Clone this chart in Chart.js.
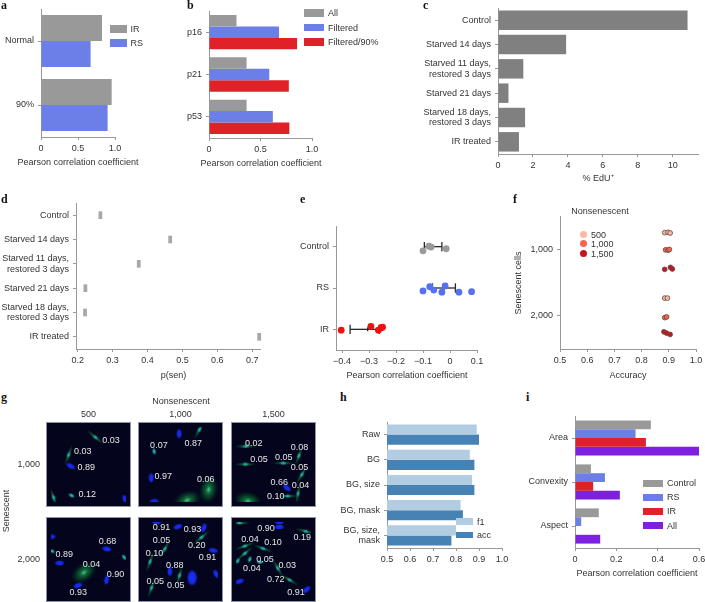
<!DOCTYPE html>
<html>
<head>
<meta charset="utf-8">
<title>Senescence figure</title>
<script src="https://cdn.jsdelivr.net/npm/chart.js@4/dist/chart.umd.min.js"></script>
<style>
  html, body { margin: 0; padding: 0; background: #fff; }
  #page { position: relative; width: 705px; height: 602px; overflow: hidden; font: 9px 'Liberation Sans', Arial, sans-serif; color: #333; }
  #page canvas { position: absolute; }
  .txt { position: absolute; white-space: nowrap; line-height: 11px; }
  .tag { position: absolute; font: bold 12px 'Liberation Serif', serif; color: #111; line-height: 12px; }
  .sw { position: absolute; }
</style>
</head>
<body>
<div id="page"></div>
<script>
const GREY = '#999999'
const BLUE = '#6c7ee8'
const RED = '#e02127'
const PURPLE = '#7e20e0'

// a
const aCats = ['Normal', '90%']
const aIR = [0.825, 0.955]
const aRS = [0.67, 0.9]

// b
const bCats = ['p16', 'p21', 'p53']
const bAll = [0.267, 0.365, 0.365]
const bFiltered = [0.68, 0.585, 0.62]
const bFiltered90 = [0.855, 0.775, 0.78]

// c
const treatments = ['Control', 'Starved 14 days', ['Starved 11 days,', 'restored 3 days'], 'Starved 21 days', ['Starved 18 days,', 'restored 3 days'], 'IR treated']
const edu = [10.85, 3.9, 1.45, 0.6, 1.55, 1.2]

// d
const psen = [0.265, 0.465, 0.375, 0.222, 0.221, 0.72]

// e
const eCats = ['Control', 'RS', 'IR']
const eControl = [[-0.1, 0.1], [-0.078, -0.01], [-0.07, 0.01], [-0.014, 0.05]]
const eRS = [[-0.1, 0.07], [-0.075, -0.03], [-0.06, 0.05], [-0.018, -0.05], [-0.03, 0.1], [0.033, 0.1], [0.08, 0.09]]
const eIR = [[-0.403, 0.02], [-0.293, -0.07], [-0.265, 0.02], [-0.25, -0.05], [-0.255, -0.04]]
const eLow = [-0.095, -0.065, -0.37]
const eMean = [-0.062, -0.022, -0.305]
const eHigh = [-0.03, 0.02, -0.262]

// f
const f500 = [[0.885, 0.74], [0.897, 0.735], [0.905, 0.745], [0.885, 1.73], [0.895, 1.73]]
const f1000 = [[0.888, 1], [0.897, 1.005], [0.902, 0.995], [0.885, 2.025], [0.892, 2.015]]
const f1500 = [[0.885, 1.295], [0.906, 1.265], [0.913, 1.29], [0.882, 2.24], [0.892, 2.26], [0.905, 2.28]]
const fLevels = ['500', '1,000', '1,500']
const fRows = ['1,000', '2,000']

// g, one entry per image
const gLabelText = [
  ['0.03', '0.03', '0.89', '0.12'],
  ['0.07', '0.87', '0.97', '0.06'],
  ['0.02', '0.08', '0.05', '0.05', '0.05', '0.66', '0.04', '0.10'],
  ['0.68', '0.89', '0.04', '0.90', '0.93'],
  ['0.91', '0.93', '0.05', '0.20', '0.10', '0.91', '0.88', '0.05', '0.05'],
  ['0.90', '0.19', '0.04', '0.10', '0.05', '0.03', '0.04', '0.72', '0.91']
]
const gLabelPos = [
  [[68, 15], [36, 28], [40, 46], [41, 77]],
  [[18, 21], [57, 19], [23, 56], [71, 60]],
  [[20, 19], [72, 23], [26, 37], [54, 35], [72, 46], [49, 63], [73, 66], [45, 79]],
  [[64, 22], [15, 37], [46, 48], [73, 59], [31, 80]],
  [[21, 6], [56, 9], [21, 21], [61, 27], [13, 36], [73, 40], [36, 49], [14, 67], [37, 72]],
  [[34, 7], [75, 18], [16, 20], [42, 23], [33, 43], [58, 49], [18, 53], [45, 65], [68, 80]]
]
// x, y, angle
const gNuclei = [
  [[22.3, 44.3, 30], [84, 82, 70]],
  [[41, 7.6, 90], [9.4, 57.6, 90], [12.7, 84.3, 0]],
  [[57.6, 69, 40]],
  [[9.7, 46.6, 0], [63.3, 30.6, 10], [63, 65.6, -80], [30.7, 72, -20], [0, 16.6, 0]],
  [[39.7, 5.3, -20], [69, 6.6, -70], [79.7, 32.3, 10], [30.4, 56, 90], [83, 59, 60], [15.7, 0, 0]],
  [[49, 5.6, 0], [4, 67.3, -20], [80, 76.6, -40], [49, 0, 0]]
]
// x, y, angle, size class
const gCells = [
  [[20, 31.6, -70, 1], [50.3, 11.6, 40, 1], [23.3, 77.6, 30, 0], [3, 80, 70, 1]],
  [[12.7, 27.6, 80, 0], [64, 3, -60, 1], [50, 83, -20, 2], [74.4, 71, -80, 2]],
  [[11, 22, 0, 1], [10.6, 42.3, 0, 1], [53.6, 41, 0, 1], [71.3, 32.6, -70, 1], [74.6, 54, -60, 1], [70.3, 75.6, -80, 1], [58.6, 78.3, 0, 1], [13.6, 84, 10, 2]],
  [[37.3, 57.3, -35, 2], [83, 40, 50, 0], [1, 33, 20, 0]],
  [[66.4, 17.3, -40, 1], [24.7, 30.6, -60, 1], [8, 45, -70, 1], [41.4, 60.6, -75, 1], [9.7, 74.6, -70, 1]],
  [[79, 10.6, 15, 1], [10, 27.3, -20, 1], [30.6, 30, 20, 1], [10, 35.6, -40, 1], [15.6, 42.3, -70, 0], [27.3, 45.6, 0, 0], [47.3, 52.3, 60, 1], [60.6, 65.6, 30, 1], [2, 44, -60, 0], [4, 1, 0, 1]]
]
const gBigNuclei = [[], [], [], [], [[55.7, 63.3, 90]], []]
const gCols = ['500', '1,000', '1,500']
const gRows = ['1,000', '2,000']

// h
const hCats = ['Raw', 'BG', 'BG, size', 'BG, mask', ['BG, size,', 'mask']]
const hF1 = [0.89, 0.86, 0.87, 0.82, 0.8]
const hAcc = [0.9, 0.88, 0.88, 0.83, 0.78]

// i
const iCats = ['Area', 'Convexity', 'Aspect']
const iControl = [0.367, 0.077, 0.115]
const iRS = [0.293, 0.145, 0.03]
const iIR = [0.343, 0.088, null]
const iAll = [0.6, 0.217, 0.122]

const page = document.getElementById('page')
const FONT = { family: "'Liberation Sans', Arial, sans-serif", size: 9, lineHeight: 1.18 }
const INK = '#333333'
const AXIS = '#999999'

function text(str, x, y, align, rotate) {
  const el = document.createElement('div')
  el.className = 'txt'
  el.textContent = str
  el.style.left = x + 'px'
  el.style.top = y + 'px'
  const tx = align === 'center' ? '-50%' : align === 'right' ? '-100%' : '0'
  el.style.transform = `translate(${tx}, -50%)` + (rotate ? ` rotate(${rotate}deg)` : '')
  page.appendChild(el)
}

function tag(str, x, y) {
  const el = document.createElement('div')
  el.className = 'tag'
  el.textContent = str
  el.style.left = x + 'px'
  el.style.top = (y - 6) + 'px'
  page.appendChild(el)
}

function swatch(color, x, y, w, h, round) {
  const el = document.createElement('div')
  el.className = 'sw'
  el.style.cssText = `left:${x}px;top:${y}px;width:${w}px;height:${h}px;background:${color};` + (round ? 'border-radius:50%;' : '')
  page.appendChild(el)
}

function addCanvas(left, top, width, height) {
  const canvas = document.createElement('canvas')
  canvas.width = width
  canvas.height = height
  canvas.style.left = left + 'px'
  canvas.style.top = top + 'px'
  canvas.style.width = width + 'px'
  canvas.style.height = height + 'px'
  page.appendChild(canvas)
  return canvas
}

function fixWidth(w) {
  return s => { s.width = w; s.paddingTop = 0; s.paddingBottom = 0 }
}

function fixHeight(h) {
  return s => { s.height = h; s.paddingLeft = 0; s.paddingRight = 0 }
}

function xAxis(min, max, step, format) {
  return {
    type: 'linear',
    min: min,
    max: max,
    border: { color: AXIS, width: 1 },
    grid: { drawOnChartArea: false, drawTicks: true, tickLength: 3, tickColor: AXIS, offset: false },
    ticks: {
      stepSize: step,
      includeBounds: false,
      maxRotation: 0,
      autoSkip: false,
      padding: 3,
      color: INK,
      font: FONT,
      callback: format
    }
  }
}

function yAxis(leftMargin) {
  return {
    afterFit: fixWidth(leftMargin),
    border: { color: AXIS, width: 1 },
    grid: { drawOnChartArea: false, drawTicks: true, tickLength: 3, tickColor: AXIS, offset: false },
    ticks: { autoSkip: false, padding: 4, color: INK, font: FONT }
  }
}

function panel(plot, leftMargin, config, yExtra) {
  const [l, t, r, b] = plot
  const bottomMargin = 20
  const left = l - leftMargin
  const top = t - 4
  const canvas = addCanvas(left, top, r - left + 14, b - top + bottomMargin)
  config.options.responsive = false
  config.options.animation = false
  config.options.devicePixelRatio = 1
  config.options.layout = { padding: { top: 4, right: 14, left: 0, bottom: 0 } }
  config.options.plugins = { legend: { display: false }, tooltip: { enabled: false } }
  const x = config.options.scales.x
  x.afterFit = fixHeight(bottomMargin)
  const y = Object.assign(yAxis(leftMargin), yExtra || {})
  if (yExtra && yExtra.ticks) y.ticks = Object.assign(yAxis(leftMargin).ticks, yExtra.ticks)
  config.options.scales.y = y
  return new Chart(canvas, config)
}

function barPanel(plot, leftMargin, cats, series, axis, groupWidth) {
  return panel(plot, leftMargin, {
    type: 'bar',
    data: {
      labels: cats,
      datasets: series.map(s => ({
        data: s[0],
        backgroundColor: s[1],
        categoryPercentage: groupWidth,
        barPercentage: 1
      }))
    },
    options: { indexAxis: 'y', scales: { x: axis } }
  })
}

const half = v => v === 0 ? '0' : v.toFixed(1)

barPanel([41, 9, 115, 137], 41, aCats, [[aIR, GREY], [aRS, BLUE]], xAxis(0, 1, 0.5, half), 0.81)
barPanel([209, 11, 312, 138], 40, bCats, [[bAll, GREY], [bFiltered, BLUE], [bFiltered90, RED]], xAxis(0, 1, 0.5, half), 0.81)
barPanel([498, 8, 698, 154], 80, treatments, [[edu, '#808080']], xAxis(0, 200 / 17.47, 2, v => String(v)), 0.8)

// d: short floating bars
panel([76, 203, 260, 349], 76, {
  type: 'bar',
  data: {
    labels: treatments,
    datasets: [{
      data: psen.map(v => [v - 0.0045, v + 0.0045]),
      backgroundColor: '#a8a8a8',
      barThickness: 7,
      clip: false
    }]
  },
  options: { indexAxis: 'y', scales: { x: xAxis(0.2 - 1.7 / 349, 0.2 + 182.3 / 349, 0.1, v => v.toFixed(1)) } }
})

// e
const jitter = (pts, row) => pts.map(p => ({ x: p[0], y: row + p[1] }))
const eSpread = (pts, color) => ({ type: 'scatter', data: pts, backgroundColor: color, borderWidth: 0, pointRadius: 3.4, clip: false })
const eWhisker = i => ({
  type: 'line',
  data: [{ x: eLow[i], y: i }, { x: eMean[i], y: i }, { x: eHigh[i], y: i }],
  borderColor: '#2a2a2a',
  borderWidth: 1.3,
  pointStyle: 'line',
  pointRotation: 90,
  pointRadius: [4.7, 2, 4.7],
  pointBorderColor: '#2a2a2a',
  pointBorderWidth: 1.3,
  clip: false
})
panel([336, 224, 477, 350], 50, {
  type: 'scatter',
  data: {
    datasets: [
      eSpread(jitter(eControl, 0), '#9a9a9a'),
      eSpread(jitter(eRS, 1), '#5570f0'),
      eSpread(jitter(eIR, 2), '#f01010'),
      eWhisker(0), eWhisker(1), eWhisker(2)
    ]
  },
  options: { scales: { x: xAxis(0.1 - 141 / 270, 0.1, 0.1, v => Math.abs(v) < 1e-9 ? '0' : v.toFixed(1).replace('-', '\u2212')) } }
}, {
  type: 'linear',
  reverse: true,
  min: -0.5,
  max: 2.5,
  afterBuildTicks: s => { s.ticks = eCats.map((c, i) => ({ value: i })) },
  ticks: { callback: v => eCats[v] }
})

// f
const fDots = (pts, color) => ({
  data: pts.map(p => ({ x: p[0], y: p[1] })),
  backgroundColor: color,
  borderColor: '#5a4a4a',
  borderWidth: 0.8,
  pointRadius: 2.4,
  clip: false
})
panel([560, 216, 696, 349], 47, {
  type: 'scatter',
  data: { datasets: [fDots(f500, '#f9b9a2'), fDots(f1000, '#f4654b'), fDots(f1500, '#c5161d')] },
  options: { scales: { x: xAxis(0.5, 1, 0.1, v => v.toFixed(1)) } }
}, {
  type: 'linear',
  reverse: true,
  min: 0.5,
  max: 2.5,
  afterBuildTicks: s => { s.ticks = fRows.map((c, i) => ({ value: i + 1 })) },
  title: { display: true, text: 'Senescent cells', color: INK, font: FONT, padding: 0 },
  ticks: { callback: v => fRows[v - 1] }
})

barPanel([387, 422, 502, 548], 70, hCats, [[hF1, '#b2cde1'], [hAcc, '#4682b4']], xAxis(0.5, 1, 0.1, v => v.toFixed(1)), 0.8)
barPanel([575, 416, 699, 548], 60, iCats, [[iControl, GREY], [iRS, BLUE], [iIR, RED], [iAll, PURPLE]], xAxis(0, 0.6, 0.2, half), 0.8)

// g: fluorescence images as scatter charts on a 0-85 pixel box
function blob(w, h, stops) {
  const c = document.createElement('canvas')
  c.width = w
  c.height = h
  const ctx = c.getContext('2d')
  ctx.translate(w / 2, h / 2)
  ctx.scale(w / 2, h / 2)
  const g = ctx.createRadialGradient(0, 0, 0, 0, 0, 1)
  stops.forEach(s => g.addColorStop(s[0], s[1]))
  ctx.fillStyle = g
  ctx.beginPath()
  ctx.arc(0, 0, 1, 0, Math.PI * 2)
  ctx.fill()
  return c
}

const blueNucleus = blob(11, 6, [[0, '#1a30f0'], [0.65, '#1226d8'], [1, 'rgba(10,20,160,0)']])
const bigNucleus = blob(17, 11, [[0, '#1a34f5'], [0.7, '#1228dc'], [1, 'rgba(10,20,160,0)']])
const cyanNucleus = blob(7, 4, [[0, '#6fe8ff'], [0.5, '#149ce0'], [1, 'rgba(10,90,200,0)']])
const glows = [
  blob(9, 4, [[0, 'rgba(40,190,90,0.85)'], [1, 'rgba(10,90,50,0)']]),
  blob(24, 4, [[0, 'rgba(40,190,90,0.8)'], [0.5, 'rgba(15,120,60,0.5)'], [1, 'rgba(5,60,30,0)']]),
  blob(30, 20, [[0, 'rgba(50,190,90,0.8)'], [0.5, 'rgba(15,120,55,0.5)'], [1, 'rgba(5,50,30,0)']])
]

const labelPlugin = {
  id: 'cellLabels',
  afterDatasetsDraw(chart) {
    const ctx = chart.ctx
    const idx = chart.options.imageIndex
    ctx.save()
    ctx.font = "9px 'Liberation Sans', Arial, sans-serif"
    ctx.fillStyle = '#e6e6e6'
    ctx.textAlign = 'center'
    ctx.textBaseline = 'middle'
    gLabelPos[idx].forEach((p, i) => {
      ctx.fillText(gLabelText[idx][i], chart.scales.x.getPixelForValue(p[0]), chart.scales.y.getPixelForValue(p[1]))
    })
    ctx.restore()
  }
}

function image(idx, left, top) {
  const canvas = addCanvas(left, top, 85, 85)
  canvas.style.background = '#04041c'
  canvas.style.outline = '1px solid #8c93a6'
  canvas.style.outlineOffset = '-1px'
  const pts = list => list.map(p => ({ x: p[0], y: p[1] }))
  const dim = () => ({ type: 'linear', display: false, min: 0, max: 85 })
  const yScale = dim()
  yScale.reverse = true
  new Chart(canvas, {
    type: 'scatter',
    data: {
      datasets: [
        { data: pts(gCells[idx]), pointStyle: gCells[idx].map(p => glows[p[3]]), pointRotation: gCells[idx].map(p => p[2]), pointRadius: 3 },
        { data: pts(gNuclei[idx]), pointStyle: blueNucleus, pointRotation: gNuclei[idx].map(p => p[2]), pointRadius: 3 },
        { data: pts(gBigNuclei[idx]), pointStyle: bigNucleus, pointRotation: gBigNuclei[idx].map(p => p[2]), pointRadius: 3 },
        { data: pts(gCells[idx]), pointStyle: cyanNucleus, pointRotation: gCells[idx].map(p => p[2]), pointRadius: 3 }
      ]
    },
    options: {
      imageIndex: idx,
      responsive: false,
      animation: false,
      devicePixelRatio: 1,
      layout: { padding: 0 },
      plugins: { legend: { display: false }, tooltip: { enabled: false } },
      scales: { x: dim(), y: yScale }
    },
    plugins: [labelPlugin]
  })
}

const gLeft = [46, 138, 231]
const gTop = [422, 517]
gTop.forEach((top, r) => gLeft.forEach((left, c) => image(r * 3 + c, left, top)))

// panel tags
tag('a', 1, 5)
tag('b', 187, 5)
tag('c', 423, 5)
tag('d', 1, 199)
tag('e', 300, 199)
tag('f', 513, 199)
tag('g', 1, 397)
tag('h', 340, 397)
tag('i', 526, 397)

// x axis titles
text('Pearson correlation coefficient', 78, 162, 'center')
text('Pearson correlation coefficient', 261, 162.5, 'center')
text('% EdU\u207a', 598, 178, 'center')
text('p(sen)', 173.5, 375, 'center')
text('Pearson correlation coefficient', 407, 375, 'center')
text('Accuracy', 628, 375, 'center')
text('Pearson correlation coefficient', 637, 573, 'center')

// b legend
const bLegend = [['All', GREY], ['Filtered', BLUE], ['Filtered/90%', RED]]
bLegend.forEach((e, i) => {
  swatch(e[1], 304, 9 + i * 14.7, 20, 7.5)
  text(e[0], 328, 13 + i * 14.7)
})

// a legend
swatch(GREY, 110, 25, 17, 7.5)
text('IR', 130.5, 29)
swatch(BLUE, 110, 39, 17, 7.5)
text('RS', 130.5, 43)

// f titles and legend
text('Nonsenescent', 600, 211, 'center')
const fColors = ['#f9b9a2', '#f4654b', '#c5161d']
fLevels.forEach((l, i) => {
  swatch(fColors[i], 579.5, 230.5 + i * 9.5, 7, 7, true)
  text(l, 591, 234.5 + i * 9.5)
})

// g titles
text('Nonsenescent', 181, 401, 'center')
gCols.forEach((l, i) => text(l, gLeft[i] + 42.5, 414, 'center'))
gRows.forEach((l, i) => text(l, 40, 464 + i * 95, 'right'))
text('Senescent', 6, 511, 'center', -90)

// h legend
swatch('#b2cde1', 456, 518, 17, 6.5)
text('f1', 477, 521.5)
swatch('#4682b4', 456, 531.5, 17, 6.5)
text('acc', 477, 535)

// i legend
const iLegend = [['Control', GREY], ['RS', BLUE], ['IR', RED], ['All', PURPLE]]
iLegend.forEach((e, i) => {
  swatch(e[1], 643, 479.5 + i * 14.2, 20, 7)
  text(e[0], 667, 483 + i * 14.2)
})
</script>
</body>
</html>
